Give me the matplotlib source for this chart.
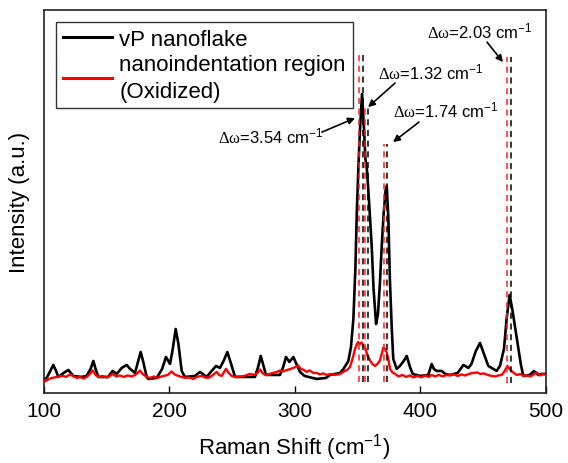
import matplotlib
matplotlib.use("Agg")
import matplotlib.pyplot as plt

plt.rcParams["font.family"] = ["Liberation Sans", "DejaVu Sans"]
plt.rcParams["mathtext.fontset"] = "custom"
plt.rcParams["mathtext.rm"] = "Liberation Sans"
plt.rcParams["mathtext.it"] = "Liberation Sans:italic"
plt.rcParams["mathtext.sf"] = "Liberation Serif"

# spectrum of the vP nanoflake (Raman shift, intensity a.u.)
shift_flake = [100, 102.5, 105, 107.8, 110, 111.8, 116, 119.8, 123.7, 130, 134.4, 137.5,
               139.7, 141.5, 143.7, 151.4, 155.1, 158.3, 162.3, 166.3, 169, 172.9, 175.5,
               177.4, 179.5, 182.2, 183.5, 190.2, 194.5, 197.6, 200.8, 203, 205.3, 207.5,
               210.1, 212.7, 220.7, 224.7, 230, 234, 237.5, 240.6, 243.5, 246.5, 249.5,
               252.6, 260, 268.5, 271, 273.1, 275.5, 277.3, 288.4, 291, 293.2, 295.9,
               299.1, 301.5, 304.4, 308, 317.7, 325, 328.3, 336.3, 339, 342.9, 345, 346.9,
               348.5, 349.6, 351, 352.2, 353.8, 355.4, 356.5, 357.5, 358.5, 360, 361.5,
               363, 365, 366.5, 368, 369.5, 371, 372.5, 373.5, 374.8, 376, 377.5, 378.7,
               381.4, 384, 387, 389.4, 392, 394.2, 400, 406.6, 409.3, 411, 413.3, 417.3,
               420, 424, 430, 434.6, 438.6, 441, 444.5, 447.8, 451, 454.4, 458.4, 461.1,
               463.7, 466.9, 469, 471.4, 473.5, 475.7, 478.3, 480.3, 482.3, 487.6, 490.8,
               494.3, 497, 500]
int_flake = [14, 15, 21, 28, 22, 16, 20, 23, 17, 16, 17, 24,
             32, 24, 16, 16, 22, 19, 25, 28, 24, 20, 32,
             41, 31, 16, 14, 15, 24, 36, 29, 44, 64, 49,
             22, 16, 17, 21, 16, 22, 27, 25, 32, 41, 29,
             16, 16, 16, 26, 37, 26, 18, 18, 26, 36, 31,
             36, 29, 21, 17, 14, 15, 18, 20, 24, 32, 46, 74,
             124, 179, 229, 264, 299, 264, 234, 226, 209, 179, 147,
             104, 69, 79, 109, 147, 179, 202, 207, 174, 114, 64, 34,
             24, 27, 32, 37, 26, 19, 17, 18, 29, 24, 22, 22,
             19, 18, 20, 28, 25, 29, 42, 50, 39, 27, 24, 22,
             27, 44, 74, 98, 84, 66, 44, 29, 17, 18, 22,
             18, 19, 19]

# spectrum of the nanoindentation region (oxidized)
shift_oxid = [100, 102.5, 104.5, 106.5, 109, 112, 115.8, 118, 121, 123.5, 126.5, 129, 132,
              134.4, 137, 139.2, 141.5, 143.7, 147, 150.4, 153, 155.1, 158, 161, 164, 167,
              170.3, 173, 175, 176.9, 179, 182.2, 184.9, 188, 190.5, 192.8, 196, 199,
              202.1, 204.5, 207.4, 210, 213, 216, 219.4, 222, 226.1, 228.5, 231.3, 234,
              238, 240, 242, 245.4, 247.5, 250, 253, 256.6, 260, 264.5, 268, 270.5, 272.5,
              274.5, 276.5, 280, 283, 286, 288.4, 291, 294, 297, 299, 301, 303, 305, 307.5,
              309.6, 312, 315, 317.7, 320, 323, 325.7, 329, 332, 336.3, 340, 342, 344.2,
              346.2, 348.2, 349.5, 350.6, 352, 353.5, 355, 356.2, 358, 360.2, 362, 364.2,
              366, 368.1, 369.5, 370.8, 372, 373.5, 375, 376.1, 378, 380.1, 383, 386, 389,
              392, 394.7, 398, 401, 404, 407, 409.3, 412, 415, 418, 421, 424, 427, 430,
              433, 436, 439, 442, 445.8, 448, 451, 454, 457, 459.8, 462.5, 465.1, 467.5,
              469.6, 472, 474.3, 477, 480, 482.5, 485, 488, 490.5, 493, 495.5, 498, 500]
int_oxid = [11, 12.5, 14, 15, 15.5, 16.5, 17, 16, 18.5, 17, 15, 16, 14.5,
            16, 19, 22.5, 18, 16, 17, 15.5, 17, 19, 16.5, 17.5, 16, 17.5,
            16.5, 18, 20, 22.5, 19, 16, 15, 16.5, 15, 16, 17, 18,
            21.5, 18.5, 17, 16, 15, 15.5, 14, 16, 17, 15.5, 15, 17,
            21, 18, 17, 24, 20, 17, 16, 16.5, 17, 19, 18, 20, 23.5,
            20, 18, 19, 20, 21, 22.5, 21.5, 23, 24, 25, 26, 27.5, 24, 23,
            21, 22.5, 20, 20, 18.5, 19.5, 18, 19, 18, 19, 22, 23, 26,
            34, 44, 48, 51, 49, 50.5, 47, 45.5, 38, 32.5, 29, 27,
            29, 32.5, 39, 45.5, 44, 40.5, 32, 24, 20.5, 19, 16.5, 18, 16,
            17.5, 15.5, 17, 15.5, 17.5, 16, 18, 16.5, 18, 16.5, 18, 17.5, 18.5, 17,
            18.5, 17.5, 19, 20, 20.5, 19, 19.5, 18, 17, 16.5, 17.5, 18, 22,
            27, 23, 20.5, 18, 19, 17, 17.5, 16.5, 18.5, 20.5, 17.5, 19, 18]

# peak positions marked with dashed lines (oxidized / pristine) and their heights
peak_oxid = [351.4, 355.8, 371.6, 469.1]
peak_flake = [354.8, 358.4, 373.9, 472.2]
peak_top = [338, 285, 249, 336]
peak_bottom = [11, 11, 11, 10]

# shift annotations: label, text position, arrow start, arrow tip
shift_labels = ["3.54", "1.32", "1.74", "2.03"]
label_pos = [(239.0, 251), (366.8, 315), (378.7, 277), (405.3, 356)]
arrow_from = [(321.9, 261), (380.1, 310), (399.2, 271), (453.4, 351)]
arrow_to = [(348.2, 275), (358.6, 286), (378.5, 251), (466.1, 331)]

fig = plt.figure(figsize=(5.68, 4.64), dpi=100)
ax = fig.add_axes([0.0766, 0.151, 0.8838, 0.825])

ax.plot(shift_flake, int_flake, color="black", lw=1.9, label="vP nanoflake", zorder=2)
ax.plot(shift_oxid, int_oxid, color="red", lw=1.7,
        label="nanoindentation region\n(Oxidized)", zorder=3)

for xo, xf, top, bot in zip(peak_oxid, peak_flake, peak_top, peak_bottom):
    ax.plot([xo, xo], [bot, top], color="#ff2020", lw=1.1, ls=(0, (4, 3)), zorder=4)
    ax.plot([xf, xf], [bot, top], color="black", lw=1.1, ls=(0, (4, 3)), zorder=4)

for lab, pos, p0, p1 in zip(shift_labels, label_pos, arrow_from, arrow_to):
    ax.text(pos[0], pos[1], r"$\mathsf{\Delta\omega}$=" + lab + r" cm$^{-1}$",
            fontsize=12, ha="left", va="baseline", zorder=5)
    ax.annotate("", xy=p1, xytext=p0,
                arrowprops=dict(arrowstyle="-|>", color="black", lw=1.2,
                                mutation_scale=10, shrinkA=0, shrinkB=0))

ax.set_xlim(100, 500)
ax.set_ylim(0, 383)
ax.set_xticks([100, 200, 300, 400, 500])
ax.set_yticks([])
ax.tick_params(axis="x", direction="in", length=5, width=1, labelsize=15, pad=6)
for sp in ax.spines.values():
    sp.set_linewidth(1.2)
    sp.set_color("#222222")

ax.set_xlabel("Raman Shift (cm$^{-1}$)", fontsize=16, labelpad=8)
ax.set_ylabel("Intensity (a.u.)", fontsize=16, labelpad=10)

leg = ax.legend(loc="upper left", bbox_to_anchor=(0.025, 0.969), fontsize=16,
                frameon=True, fancybox=False, edgecolor="#333333", framealpha=1,
                handlelength=2.2, handletextpad=0.35, borderpad=0.3,
                labelspacing=0.2, borderaxespad=0)
leg.get_frame().set_linewidth(1.0)
for t in leg.get_texts():
    t.set_linespacing(1.35)
for ln in leg.get_lines():
    ln.set_linewidth(2.2)

fig.savefig("out.png", dpi=100)
